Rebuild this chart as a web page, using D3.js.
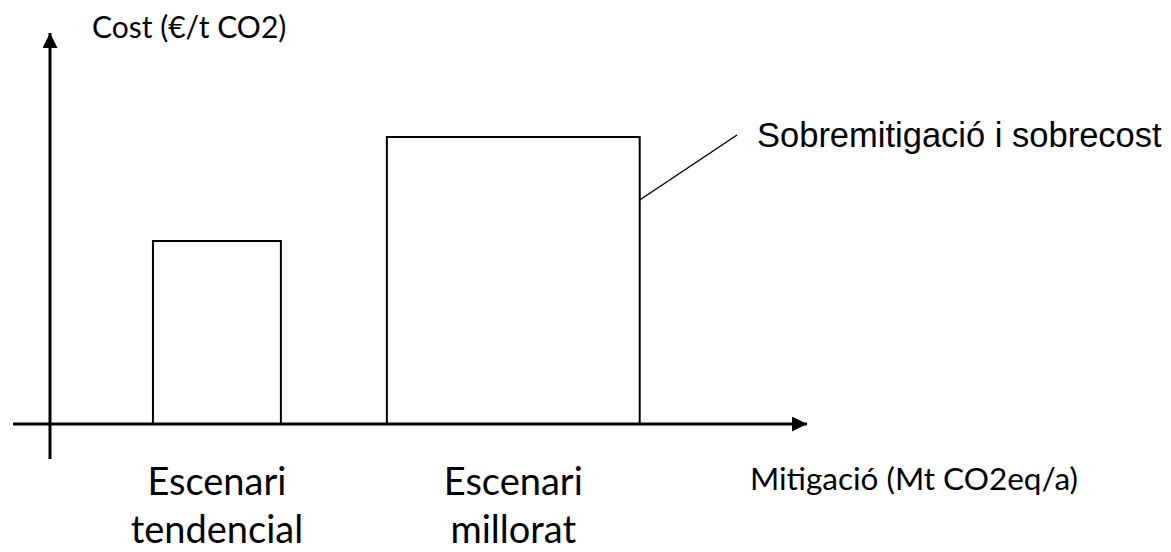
<!DOCTYPE html>
<html>
<head>
<meta charset="utf-8">
<script src="https://d3js.org/d3.v7.min.js"></script>
<style>
  body { margin: 0; background: #fff; }
  .calib { font-family: Lato, "Open Sans", sans-serif; }
</style>
</head>
<body>
<svg id="chart" width="1171" height="552"></svg>
<script>
// schematic values (arbitrary units)
const categories = ["Escenari tendencial", "Escenari millorat"];
const mitigationStart = [13.6, 44.5];
const mitigationEnd = [30.5, 77.9];
const costValues = [46.8, 73.4];
const yLabel = "Cost (€/t CO2)";
const xLabel = "Mitigació (Mt CO2eq/a)";
const note = "Sobremitigació i sobrecost";

const svg = d3.select("svg#chart");
const origin = {x: 50, y: 424};

const x = d3.scaleLinear().domain([0, 100]).range([origin.x, 807]);
const y = d3.scaleLinear().domain([0, 100]).range([origin.y, 33]);

svg.append("defs").append("marker")
   .attr("id", "arrow")
   .attr("viewBox", "0 0 10 10")
   .attr("refX", 10).attr("refY", 5)
   .attr("markerWidth", 5.5).attr("markerHeight", 5)
   .attr("markerUnits", "strokeWidth")
   .attr("orient", "auto")
   .append("path")
   .attr("d", "M0,0 L10,5 L0,10 Z")
   .attr("fill", "black");

// axes
svg.append("line")
   .attr("x1", x(0)).attr("x2", x(0))
   .attr("y1", 459).attr("y2", y(100))
   .attr("stroke", "black").attr("stroke-width", 3)
   .attr("marker-end", "url(#arrow)");

svg.append("line")
   .attr("x1", 13).attr("x2", x(100))
   .attr("y1", y(0)).attr("y2", y(0))
   .attr("stroke", "black").attr("stroke-width", 3)
   .attr("marker-end", "url(#arrow)");

// bars
categories.forEach((c, i) => {
    svg.append("rect")
       .attr("x", x(mitigationStart[i]))
       .attr("y", y(costValues[i]))
       .attr("width", x(mitigationEnd[i]) - x(mitigationStart[i]))
       .attr("height", y(0) - y(costValues[i]))
       .attr("fill", "none")
       .attr("stroke", "black")
       .attr("stroke-width", 2);

    const cx = (x(mitigationStart[i]) + x(mitigationEnd[i])) / 2;
    const words = c.split(" ");
    words.forEach((w, k) => {
        svg.append("text")
           .attr("class", "calib")
           .attr("x", cx)
           .attr("y", 495 + k * 48)
           .attr("text-anchor", "middle")
           .attr("font-size", 38)
           .text(w);
    });
});

// annotation
const bx = x(mitigationEnd[1]);
svg.append("line")
   .attr("x1", bx).attr("y1", 200)
   .attr("x2", 737).attr("y2", 135)
   .attr("stroke", "black").attr("stroke-width", 1.5);

svg.append("text")
   .attr("x", 757).attr("y", 147)
   .attr("font-family", "'Liberation Sans', Arial, sans-serif")
   .attr("font-size", 34.5)
   .text(note);

svg.append("text")
   .attr("class", "calib")
   .attr("x", 92).attr("y", 38)
   .attr("font-size", 30)
   .text(yLabel);

svg.append("text")
   .attr("class", "calib")
   .attr("x", 750).attr("y", 490)
   .attr("font-size", 31.5)
   .text(xLabel);
</script>
</body>
</html>
